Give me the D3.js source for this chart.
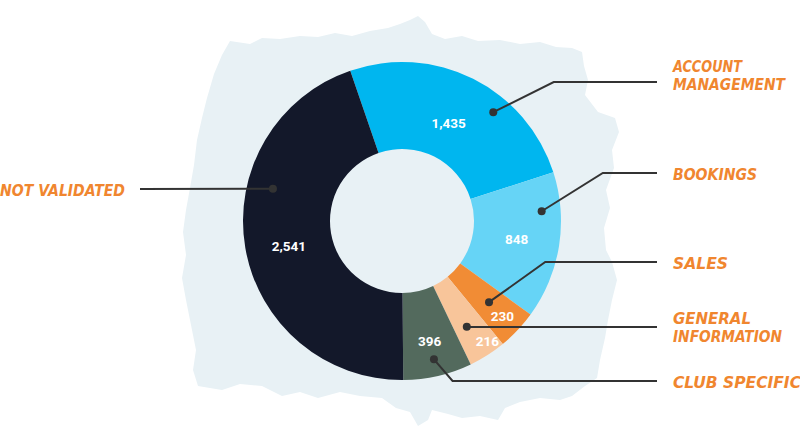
<!DOCTYPE html>
<html><head><meta charset="utf-8">
<script src="https://cdn.jsdelivr.net/npm/d3@7"></script>
<style>
html,body{margin:0;padding:0;background:#fff;}
svg{display:block;}
</style></head>
<body>
<svg id="c" width="800" height="443"></svg>
<script>
// ---- data ----
const categories = ["Account Management","Bookings","Sales","General Information","Club Specific","Not Validated"];
const values = [1435, 848, 230, 216, 396, 2541];
const valueLabels = ["1,435","848","230","216","396","2,541"];
const labelLines = [["ACCOUNT","MANAGEMENT"],["BOOKINGS"],["SALES"],["GENERAL","INFORMATION"],["CLUB SPECIFIC"],["NOT VALIDATED"]];
const colors = ["#00b6ef","#66d4f6","#f18c35","#f8c59a","#536a5d","#13182a"];

// ---- layout ----
const cx = 402, cy = 221, R = 159, r0 = 72;
const startAngle = -19 * Math.PI / 180;
const svg = d3.select("#c");

// brush-stroke background (decoration)
const bg = [[230,41],[250,44],[262,38],[280,39],[300,36],[318,37],[335,33],[352,36],[370,31],[388,28],[400,24],[410,20],[418,16],[425,22],[432,34],[445,39],[462,36],[478,41],[500,40],[520,44],[540,42],[556,47],[572,48],[582,52],[584,66],[588,80],[585,95],[598,112],[615,118],[619,132],[612,150],[614,168],[606,190],[610,208],[604,228],[606,250],[612,262],[617,280],[612,300],[608,320],[605,338],[600,360],[597,378],[585,386],[572,396],[560,400],[540,398],[520,402],[505,408],[498,420],[480,416],[462,418],[448,414],[432,410],[428,420],[418,426],[410,412],[396,408],[382,398],[360,396],[340,392],[318,398],[300,392],[282,396],[262,386],[240,384],[222,390],[198,386],[193,370],[196,350],[190,320],[186,300],[182,278],[186,255],[183,232],[186,210],[190,188],[194,165],[197,140],[202,118],[207,98],[214,74],[222,55]];
svg.append("path")
  .attr("d", d3.line().curve(d3.curveLinearClosed)(bg))
  .attr("fill", "#e8f1f5");

const pie = d3.pie().sort(null).value(d => d)
  .startAngle(startAngle).endAngle(startAngle + 2 * Math.PI);
const arcs = pie(values);
const arc = d3.arc().innerRadius(r0).outerRadius(R);

const g = svg.append("g").attr("transform", `translate(${cx},${cy})`);
g.selectAll("path.slice").data(arcs).enter().append("path")
  .attr("class","slice")
  .attr("d", arc)
  .attr("fill", (d,i) => colors[i]);

// value labels: radial position per slice (small slices pushed outward)
const labelR = [108, 116, 138, 147, 123, 116];
const labelShift = [-1, 0, 0, -3, 0, -3]; // degrees
g.selectAll("text.val").data(arcs).enter().append("text")
  .attr("class","val")
  .attr("x", (d,i) => labelR[i] * Math.sin((d.startAngle + d.endAngle) / 2 + labelShift[i]*Math.PI/180))
  .attr("y", (d,i) => -labelR[i] * Math.cos((d.startAngle + d.endAngle) / 2 + labelShift[i]*Math.PI/180))
  .attr("dy", "0.36em")
  .attr("text-anchor","middle")
  .attr("font-family","Roboto, 'Noto Sans', sans-serif")
  .attr("font-weight", 700)
  .attr("font-size", 13.5)
  .attr("fill","#fff")
  .text((d,i) => valueLabels[i]);

// leader lines: dot polar position (angle deg, radius), elbow, end
const dots = [[40,142],[86,140],[133,119],[148.5,124],[167,142],[-76,133]];
const elbowY = [82, 173, 262, 327, 381, 189];
const elbowDX = [2.0, 1.6, 1.4, 0, 0.86, 0];
const labelWidths = [[69,112],[84],[55],[78,109],[128],[125]];
const lineColor = "#333";
const xRight = 657, xLeft = 140;
const lg = svg.append("g");
arcs.forEach((d,i) => {
  const a = dots[i][0] * Math.PI / 180, rr = dots[i][1];
  const px = cx + rr * Math.sin(a), py = cy - rr * Math.cos(a);
  const right = px > cx;
  const ey = elbowY[i];
  let pts;
  if (right) {
    const ex = px + Math.abs(ey - py) * elbowDX[i];
    pts = [[px,py],[ex,ey],[xRight,ey]];
  } else {
    pts = [[px,py],[xLeft,ey]];
  }
  lg.append("path").attr("d", d3.line()(pts))
    .attr("fill","none").attr("stroke",lineColor).attr("stroke-width",2);
  lg.append("circle").attr("cx",px).attr("cy",py).attr("r",4).attr("fill",lineColor);

  const lines = labelLines[i];
  const t = lg.append("text")
    .attr("font-family","'DejaVu Sans Condensed','DejaVu Sans',sans-serif")
    .attr("font-style","italic")
    .attr("font-weight",700)
    .attr("font-size",16)
    .attr("fill","#f0862f");
  const x0 = right ? 673 : 0;
  const lh = 18;
  const y0 = ey - (lines.length - 1) * lh / 2 + (lines.length === 1 ? 1 : 0) + (i === 0 ? -7 : 0);
  lines.forEach((s,k) => {
    t.append("tspan").attr("x", x0).attr("y", y0 + k*lh).attr("dy","0.36em")
      .attr("textLength", labelWidths[i][k]).attr("lengthAdjust","spacingAndGlyphs")
      .text(s);
  });
});
</script>
</body></html>
